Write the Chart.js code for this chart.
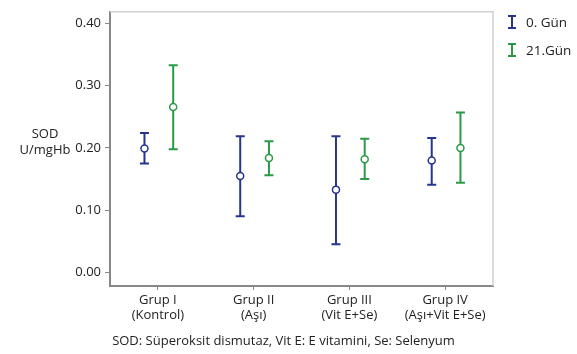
<!DOCTYPE html>
<html>
<head>
<meta charset="utf-8">
<script src="https://cdn.jsdelivr.net/npm/chart.js@4"></script>
<style>
  html, body { margin: 0; padding: 0; background: #fff; }
  #wrap { position: relative; width: 577px; height: 354px; font-family: "Open Sans", sans-serif; color: #222; }
  #chartSod { position: absolute; left: 0; top: 0; }
  .ytitle { position: absolute; left: 8px; top: 125px; width: 74px; text-align: center; font-size: 13px; line-height: 16px; }
  .legend { position: absolute; left: 507px; top: 8px; font-size: 13.5px; }
  .legend div { display: flex; align-items: center; height: 28px; }
  .legend svg { margin-right: 9px; }
  .caption { position: absolute; left: 0; width: 577px; top: 331px; text-align: center; font-size: 13px; margin-left: -5px; }
</style>
</head>
<body>
<div id="wrap">
  <canvas id="chartSod" width="577" height="354"></canvas>
  <div class="ytitle">SOD<br>U/mgHb</div>
  <div class="legend">
    <div><svg width="10" height="14"><path d="M1 1H9M5 1V13M1 13H9" stroke="#26348f" stroke-width="2" fill="none"/></svg>0. Gün</div>
    <div><svg width="10" height="14"><path d="M1 1H9M5 1V13M1 13H9" stroke="#2a9a45" stroke-width="2" fill="none"/></svg>21.Gün</div>
  </div>
  <div class="caption">SOD: Süperoksit dismutaz, Vit E: E vitamini, Se: Selenyum</div>
</div>
<script>
// gruplar
const categories = [['Grup I', '(Kontrol)'], ['Grup II', '(Aşı)'], ['Grup III', '(Vit E+Se)'], ['Grup IV', '(Aşı+Vit E+Se)']];

// 0. gün: ortalama, alt, üst
const gun0Mean  = [0.199, 0.155, 0.133, 0.180];
const gun0Low   = [0.175, 0.090, 0.045, 0.141];
const gun0High  = [0.224, 0.219, 0.219, 0.216];

// 21. gün
const gun21Mean = [0.266, 0.184, 0.182, 0.200];
const gun21Low  = [0.198, 0.156, 0.150, 0.144];
const gun21High = [0.333, 0.211, 0.215, 0.257];

const yTicks = [0.00, 0.10, 0.20, 0.30, 0.40];

const BLUE = '#26348f';
const GREEN = '#2a9a45';

// hata çubuğu: alt-üst noktaları, gruplar arasında boşluk (null)
function whiskers(low, high, shift){
  const pts = [];
  low.forEach((lo, i) => {
    pts.push({x: i + 1 + shift, y: lo});
    pts.push({x: i + 1 + shift, y: high[i]});
    pts.push({x: i + 1 + shift, y: null});
  });
  return pts;
}
function means(vals, shift){
  return vals.map((v, i) => ({x: i + 1 + shift, y: v}));
}

const frame = {
  id: 'frame',
  beforeDatasetsDraw(chart){
    const a = chart.chartArea, c = chart.ctx;
    c.save();
    c.strokeStyle = '#d0d0d0';
    c.lineWidth = 1.5;
    c.beginPath();
    c.moveTo(a.left, a.top); c.lineTo(a.right, a.top); c.lineTo(a.right, a.bottom);
    c.stroke();
    c.restore();
  }
};

const ctx = document.getElementById('chartSod').getContext('2d');
new Chart(ctx, {
  type: 'scatter',
  data: {
    datasets: [
      { data: means(gun0Mean, -0.14), pointStyle: 'circle', pointRadius: 3.5, borderWidth: 1.5, borderColor: BLUE, backgroundColor: '#fff', order: 0 },
      { data: means(gun21Mean, 0.16), pointStyle: 'circle', pointRadius: 3.5, borderWidth: 1.5, borderColor: GREEN, backgroundColor: '#fff', order: 0 },
      { data: whiskers(gun0Low, gun0High, -0.14), showLine: true, spanGaps: false, pointStyle: 'line', pointRadius: 4.5, borderWidth: 2, borderColor: BLUE, backgroundColor: BLUE, order: 1 },
      { data: whiskers(gun21Low, gun21High, 0.16), showLine: true, spanGaps: false, pointStyle: 'line', pointRadius: 4.5, borderWidth: 2, borderColor: GREEN, backgroundColor: GREEN, order: 1 }
    ]
  },
  options: {
    responsive: false,
    animation: false,
    layout: { padding: { left: 0, right: 84, top: 6, bottom: 32 } },
    plugins: { legend: { display: false }, tooltip: { enabled: false } },
    scales: {
      x: {
        type: 'linear', min: 0.5, max: 4.5,
        afterBuildTicks: s => { s.ticks = categories.map((_, i) => ({value: i + 1})); },
        afterFit: s => { s.height = 36; },
        ticks: { callback: v => categories[v - 1], color: '#222', font: { family: 'Open Sans', size: 13 }, maxRotation: 0, padding: 2 },
        grid: { drawOnChartArea: false, drawTicks: true, tickLength: 4, color: '#888' },
        border: { color: '#888', width: 2 }
      },
      y: {
        min: -0.022, max: 0.419,
        afterBuildTicks: s => { s.ticks = yTicks.map(v => ({value: v})); },
        afterFit: s => { s.width = 110; },
        ticks: { callback: v => v.toFixed(2), color: '#222', font: { family: 'Open Sans', size: 13 }, padding: 4 },
        grid: { drawOnChartArea: false, drawTicks: true, tickLength: 5, color: '#888' },
        border: { color: '#888', width: 2 }
      }
    }
  },
  plugins: [frame]
});
</script>
</body>
</html>
